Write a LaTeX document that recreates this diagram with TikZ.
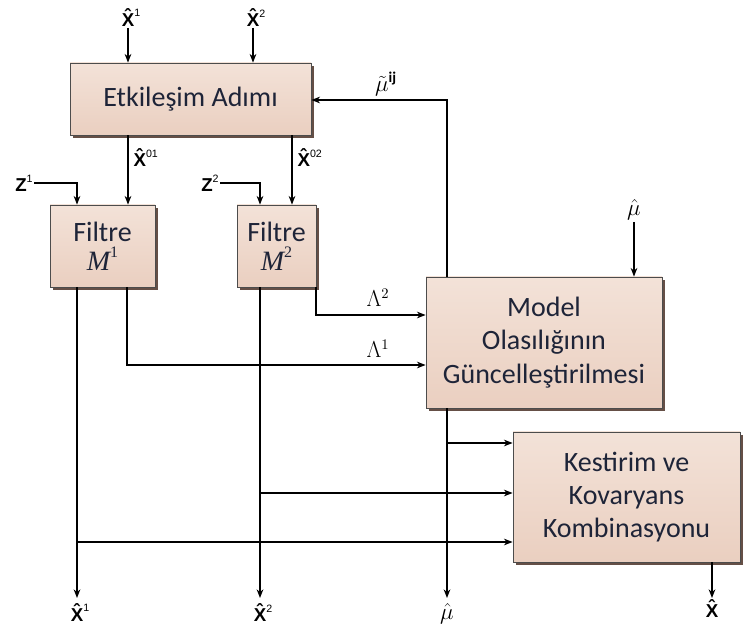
\documentclass[tikz,border=0pt]{standalone}
\usepackage{fontspec}
\setmainfont{Carlito}
\newfontfamily\labfont{Liberation Sans}
\newfontfamily\serfont{Liberation Serif}
\usetikzlibrary{arrows.meta,shadows}

\definecolor{boxfillA}{HTML}{F3E2D8}
\definecolor{boxfillB}{HTML}{EACFC0}
\definecolor{boxtext}{HTML}{1E2438}
\definecolor{boxshadow}{HTML}{4A3026}

% bold X with a circumflex stacked on top
\newcommand\HatX{\ooalign{\textbf{X}\cr\hidewidth\raisebox{0.2em}{\textbf{\char"02C6}}\hidewidth\cr}}
% bold hatted X with a small superscript
\newcommand\XhatLab[1]{{\labfont\fontsize{14}{16}\selectfont\HatX\raisebox{0.5em}{\fontsize{8}{8}\selectfont #1}}}
\newcommand\ZLab[1]{{\labfont\fontsize{14}{16}\selectfont\textbf{Z}\raisebox{0.5em}{\fontsize{8}{8}\selectfont #1}}}

\tikzset{
  blk/.style={draw=black!70, line width=0.6pt, top color=boxfillA, bottom color=boxfillB,
    text=boxtext, align=center, font=\fontsize{21}{25}\selectfont,
    drop shadow={shadow xshift=2.5pt, shadow yshift=-2.5pt, fill=boxshadow, opacity=0.85}},
  lab/.style={inner sep=1pt, font=\fontsize{14}{16}\selectfont},
  mlab/.style={inner sep=1pt, font=\fontsize{16}{18}\selectfont},
  conn/.style={line width=0.9pt},
  arr/.style={conn, -{Stealth[length=6.5pt,width=5pt]}},
}

\begin{document}
\begin{tikzpicture}[x=0.75pt,y=-0.75pt]
\useasboundingbox (0,0) rectangle (744,638);

% blocks
\node[blk, minimum width=180.75pt, minimum height=54pt] (etk) at (190.5,99) {Etkileşim Adımı};
\node[blk, minimum width=78.75pt, minimum height=61.5pt] (f1) at (102.5,246)
  {Filtre\\[-3pt] {\serfont\itshape M}\raisebox{0.45em}{\fontsize{12}{12}\selectfont\serfont 1}};
\node[blk, minimum width=59.25pt, minimum height=61.5pt] (f2) at (276.5,246)
  {Filtre\\[-3pt] {\serfont\itshape M}\raisebox{0.45em}{\fontsize{12}{12}\selectfont\serfont 2}};
\node[blk, minimum width=177pt, minimum height=98.25pt] (mdl) at (544,342.5)
  {Model\\Olasılığının\\Güncelleştirilmesi};
\node[blk, minimum width=170.25pt, minimum height=97.5pt] (kes) at (626.5,497)
  {Kestirim ve\\Kovaryans\\Kombinasyonu};

% inputs to the interaction step
\node[lab] (tx1) at (131,18) {\XhatLab{1}};
\node[lab] (tx2) at (256,18) {\XhatLab{2}};
\coordinate (c1) at (128,0);
\coordinate (c2) at (253,0);
\draw[arr] (c1 |- tx1.south) -- (c1 |- etk.north);
\draw[arr] (c2 |- tx2.south) -- (c2 |- etk.north);

% mixed initial conditions
\draw[arr] (c1 |- etk.south) -- (c1 |- f1.north);
\node[lab, anchor=west] (x01) at (132,158) {\XhatLab{01}};
\coordinate (c3) at (292,0);
\draw[arr] (c3 |- etk.south) -- (c3 |- f2.north);
\node[lab, anchor=west] (x02) at (296,158) {\XhatLab{02}};

% measurements
\node[lab] (z1) at (24,183) {\ZLab{1}};
\node[lab] (z2) at (210,183) {\ZLab{2}};
\coordinate (c4) at (77,183);
\coordinate (c5) at (260,183);
\draw[arr] (z1.east) -- (c4) -- (c4 |- f1.north);
\draw[arr] (z2.east) -- (c5) -- (c5 |- f2.north);

% feedback of mixing probabilities
\coordinate (fbk) at (447,100);
\draw[arr] (mdl.north -| fbk) -- (fbk) -- (etk.east |- fbk);
\node[mlab] (mut) at (386,84) {$\tilde{\mu}^{\mathbf{ij}}$};

% prior model probabilities
\node[mlab] (muin) at (634,210) {$\hat{\mu}$};
\draw[arr] (muin.south) -- (muin |- mdl.north);

% likelihoods
\coordinate (l2) at (316,315);
\coordinate (l1) at (127,365);
\draw[arr] (f2.south -| l2) -- (l2) -- (mdl.west |- l2);
\draw[arr] (f1.south -| l1) -- (l1) -- (mdl.west |- l1);
\node[mlab] (lam2) at (378,298) {$\Lambda^{2}$};
\node[mlab] (lam1) at (378,349) {$\Lambda^{1}$};

% outputs
\coordinate (o1) at (77,598);
\coordinate (o2) at (260,598);
\coordinate (o3) at (447,598);
\coordinate (o4) at (712,598);
\draw[arr] (f1.south -| o1) -- (o1);
\draw[arr] (f2.south -| o2) -- (o2);
\draw[arr] (mdl.south -| o3) -- (o3);
\draw[arr] (kes.south -| o4) -- (o4);
\node[lab, anchor=north] (ox1) at (80,603) {\XhatLab{1}};
\node[lab, anchor=north] (ox2) at (263,603) {\XhatLab{2}};
\node[mlab, anchor=north] (ox3) at (447,602) {$\hat{\mu}$};
\node[lab, anchor=north] (ox4) at (712,603) {\XhatLab{}};

% taps into the combination block
\coordinate (t3) at (447,443);
\coordinate (t2) at (260,493);
\coordinate (t1) at (77,542);
\draw[arr] (t3) -- (kes.west |- t3);
\draw[arr] (t2) -- (kes.west |- t2);
\draw[arr] (t1) -- (kes.west |- t1);
\end{tikzpicture}
\end{document}
